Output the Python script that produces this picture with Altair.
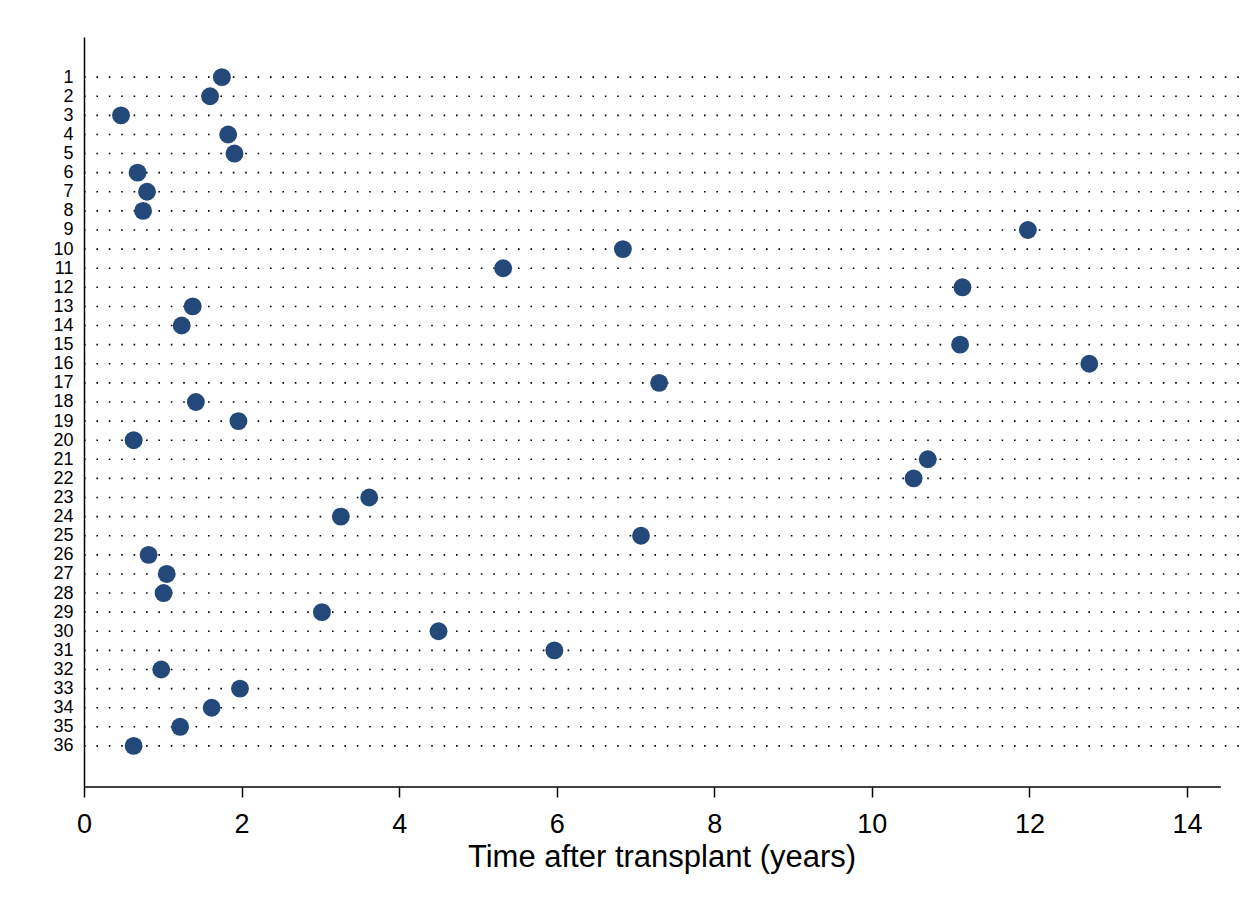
import altair as alt
import pandas as pd

patients = list(range(1, 37))
times = [1.75, 1.60, 0.47, 1.83, 1.91, 0.68, 0.80, 0.75, 11.98, 6.84,
         5.32, 11.15, 1.38, 1.24, 11.12, 12.76, 7.30, 1.42, 1.96, 0.63,
         10.71, 10.53, 3.62, 3.26, 7.07, 0.82, 1.05, 1.01, 3.02, 4.50,
         5.97, 0.98, 1.98, 1.62, 1.22, 0.63]
x_ticks = [0, 2, 4, 6, 8, 10, 12, 14]

X_MAX = 14.66
AXIS_END = 14.43
Y_DOM = [-1.1, 38.15]
FONT = "Liberation Sans"

df = pd.DataFrame({"patient": patients, "time": times})
grid = pd.DataFrame({"patient": patients, "x0": [0.0] * len(patients), "x1": [X_MAX] * len(patients)})
xline = pd.DataFrame({"patient": [Y_DOM[1]], "x0": [0.0], "x1": [AXIS_END]})

xscale = alt.Scale(domain=[0, X_MAX], nice=False, zero=False)
yscale = alt.Scale(domain=Y_DOM, reverse=True, nice=False, zero=False)

xaxis = alt.Axis(values=x_ticks, format="d", domain=False, grid=False,
                 tickSize=10, tickColor="black", tickWidth=1.5,
                 labelFontSize=27, labelFont=FONT, labelColor="black", labelPadding=14,
                 labelFlush=False,
                 title="Time after transplant (years)", titleFontSize=31, titleFont=FONT,
                 titleFontWeight="normal", titleColor="black", titlePadding=5)
yaxis = alt.Axis(values=patients, format="d", domain=True, domainColor="black", domainWidth=1.5,
                 ticks=False, grid=False, labelFontSize=18, labelFont=FONT,
                 labelColor="black", labelPadding=11, title=None, labelBaseline="middle",
                 labelOverlap=False, labelBound=False, labelFlush=False)

X = lambda f: alt.X(f, scale=xscale, axis=xaxis, title="Time after transplant (years)")
Y = lambda f: alt.Y(f, scale=yscale, axis=yaxis, title=None)

rules = alt.Chart(grid).mark_rule(color="black", strokeWidth=1.6, strokeDash=[1.6, 10.8], strokeCap="butt").encode(
    x=X("x0:Q"), x2="x1:Q", y=Y("patient:Q"),
)

axisline = alt.Chart(xline).mark_rule(color="black", strokeWidth=1.5).encode(
    x=X("x0:Q"), x2="x1:Q", y=Y("patient:Q"),
)

points = alt.Chart(df).mark_circle(size=320, opacity=1, color="#23497a").encode(
    x=X("time:Q"), y=Y("patient:Q"),
)

chart = alt.layer(rules, axisline, points).properties(
    width=1155, height=750,
    autosize=alt.AutoSizeParams(type="none"),
    padding={"left": 76, "top": 29, "right": 0, "bottom": 100},
    background="white",
).configure_view(stroke=None)

chart.save("out.html", embed_options={"renderer": "svg", "actions": False})
